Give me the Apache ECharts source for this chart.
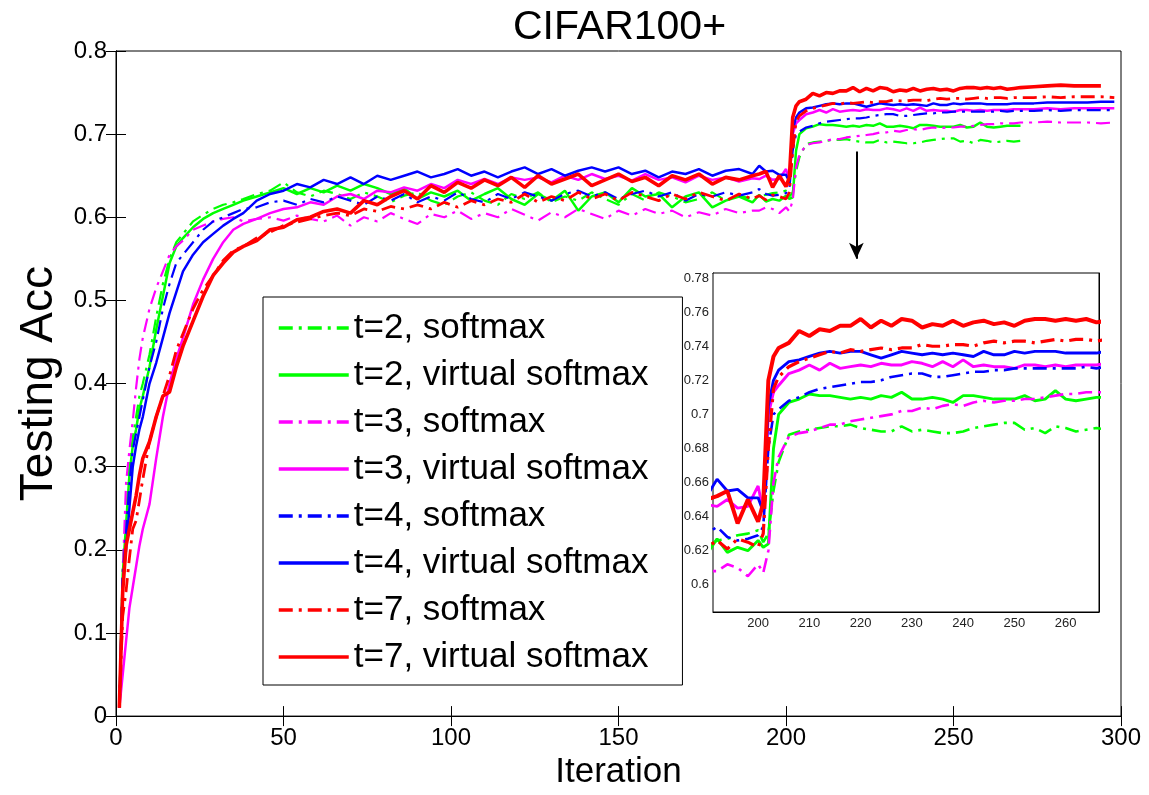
<!DOCTYPE html>
<html lang="en">
<head>
  <meta charset="UTF-8">
  <title>CIFAR100+</title>
  <script src="https://cdn.jsdelivr.net/npm/echarts@6/dist/echarts.min.js"></script>
</head>
<body style="margin:0">
  <div id="main" style="width:1149px;height:795px"></div>

  <script>
    const iters = [1, 2, 3, 4, 5, 6, 7, 8,
      10, 12, 14, 16, 18, 20,
      23, 26, 29, 32, 35, 38,
      42, 46, 50, 54, 58, 62, 66, 70, 74, 78,
      82, 86, 90, 94, 98, 102, 106, 110, 114, 118,
      122, 126, 130, 134, 138, 142, 146, 150, 154, 158,
      162, 166, 170, 174, 178, 182, 186, 190,
      192, 194, 196, 198, 200,
      201, 202, 203, 204,
      206, 208, 210, 212, 214, 216, 218, 220, 222, 224,
      226, 228, 230, 232, 234, 236, 238, 240, 242, 244,
      246, 248, 250, 252, 254, 256, 258, 260, 262, 264,
      266, 268, 270,
      274, 278, 282, 286, 290, 294, 298]

    const t2Softmax = [0.01, 0.18, 0.24, 0.30, 0.335, 0.36, 0.385, 0.40,
      0.435, 0.48, 0.52, 0.55, 0.57, 0.58,
      0.595, 0.603, 0.61, 0.615, 0.618, 0.622,
      0.628, 0.632, 0.642, 0.63, 0.625, 0.632, 0.628, 0.622, 0.63, 0.625,
      0.618, 0.626, 0.63, 0.62, 0.615, 0.625, 0.63, 0.62, 0.615, 0.628,
      0.622, 0.63, 0.618, 0.625, 0.62, 0.63, 0.622, 0.615, 0.628, 0.62,
      0.63, 0.625, 0.618, 0.622, 0.63, 0.62, 0.626, 0.622,
      0.626, 0.627, 0.629, 0.63, 0.632,
      0.625, 0.63, 0.655, 0.672,
      0.688, 0.69, 0.691, 0.692, 0.693, 0.693, 0.694, 0.692, 0.691, 0.69,
      0.69, 0.693, 0.69, 0.691, 0.69, 0.689, 0.689, 0.69, 0.692, 0.693,
      0.694, 0.695, 0.695, 0.691, 0.692, 0.689, 0.693, 0.692, 0.69, 0.691,
      0.692, 0.691, 0.692,
      null, null, null, null, null, null, null]

    const t2Virtual = [0.01, 0.17, 0.23, 0.29, 0.325, 0.345, 0.37, 0.385,
      0.42, 0.465, 0.505, 0.545, 0.565, 0.575,
      0.588, 0.598, 0.605, 0.61, 0.615, 0.62,
      0.625, 0.63, 0.635, 0.628, 0.635, 0.63, 0.638, 0.632, 0.64, 0.635,
      0.628, 0.635, 0.622, 0.63, 0.625, 0.632, 0.62, 0.628, 0.635, 0.622,
      0.615, 0.628, 0.62, 0.632, 0.608, 0.625, 0.63, 0.618, 0.635, 0.625,
      0.628, 0.612, 0.625, 0.63, 0.612, 0.62, 0.625, 0.618,
      0.627, 0.619, 0.622, 0.62, 0.626,
      0.622, 0.624, 0.68, 0.70,
      0.707, 0.709, 0.712, 0.711, 0.711, 0.71, 0.709, 0.71, 0.709, 0.711,
      0.71, 0.713, 0.709, 0.709, 0.71, 0.709, 0.707, 0.711, 0.711, 0.71,
      0.709, 0.709, 0.709, 0.711, 0.708, 0.709, 0.714, 0.709, 0.708, 0.709,
      0.71, 0.71, 0.71,
      null, null, null, null, null, null, null]

    const t3Softmax = [0.01, 0.17, 0.28, 0.32, 0.355, 0.395, 0.43, 0.455,
      0.49, 0.515, 0.535, 0.555, 0.565, 0.572,
      0.585, 0.59, 0.595, 0.598, 0.60, 0.595,
      0.598, 0.60, 0.596, 0.602, 0.598, 0.595, 0.602, 0.59, 0.60, 0.595,
      0.605, 0.598, 0.592, 0.604, 0.60, 0.608, 0.598, 0.605, 0.60, 0.61,
      0.603, 0.596, 0.606, 0.60, 0.61, 0.604, 0.598, 0.608, 0.602, 0.61,
      0.604, 0.608, 0.60, 0.606, 0.602, 0.61, 0.605, 0.608,
      0.608, 0.612, 0.61, 0.605, 0.612,
      0.607, 0.62, 0.66, 0.675,
      0.687, 0.689, 0.69, 0.692, 0.694, 0.694, 0.696, 0.697, 0.698, 0.699,
      0.70, 0.702, 0.702, 0.704, 0.703, 0.705, 0.706, 0.705, 0.707, 0.708,
      0.707, 0.708, 0.708, 0.709, 0.709, 0.71, 0.711, 0.712, 0.712, 0.713,
      0.713, 0.713, 0.714,
      0.714, 0.715, 0.714, 0.714, 0.714, 0.713, 0.714]

    const t3Virtual = [0.01, 0.05, 0.09, 0.13, 0.155, 0.18, 0.205, 0.225,
      0.255, 0.31, 0.36, 0.40, 0.43, 0.455,
      0.495, 0.525, 0.55, 0.57, 0.585, 0.592,
      0.598, 0.605, 0.61, 0.612, 0.618, 0.615, 0.625, 0.628, 0.622, 0.632,
      0.63, 0.636, 0.632, 0.64, 0.635, 0.645, 0.64, 0.646, 0.64, 0.648,
      0.645, 0.648, 0.642, 0.65, 0.645, 0.652, 0.646, 0.65, 0.644, 0.652,
      0.645, 0.648, 0.642, 0.65, 0.645, 0.648, 0.643, 0.647,
      0.646, 0.65, 0.645, 0.646, 0.658,
      0.643, 0.70, 0.713, 0.717,
      0.724, 0.726, 0.729, 0.726, 0.73, 0.727, 0.728, 0.729, 0.728, 0.73,
      0.729, 0.729, 0.731, 0.73, 0.728, 0.731, 0.728, 0.732, 0.728, 0.729,
      0.728, 0.728, 0.727, 0.729, 0.729, 0.728, 0.729, 0.728, 0.729, 0.729,
      0.729, 0.73, 0.73,
      0.73, 0.731, 0.73, 0.731, 0.731, 0.731, 0.731]

    const t4Softmax = [0.01, 0.17, 0.22, 0.28, 0.32, 0.34, 0.36, 0.38,
      0.42, 0.45, 0.49, 0.52, 0.545, 0.555,
      0.57, 0.585, 0.595, 0.60, 0.605, 0.61,
      0.612, 0.618, 0.62, 0.615, 0.622, 0.618, 0.625, 0.62, 0.615, 0.625,
      0.62, 0.628, 0.618, 0.625, 0.62, 0.63, 0.622, 0.618, 0.628, 0.622,
      0.63, 0.625, 0.62, 0.628, 0.632, 0.625, 0.63, 0.622, 0.628, 0.632,
      0.625, 0.63, 0.62, 0.628, 0.625, 0.63, 0.626, 0.63,
      0.634, 0.628, 0.626, 0.627, 0.629,
      0.634, 0.68, 0.70, 0.703,
      0.708, 0.71, 0.713, 0.715, 0.716, 0.717, 0.718, 0.719, 0.719, 0.72,
      0.722, 0.723, 0.724, 0.724, 0.722, 0.722, 0.723, 0.724, 0.725, 0.725,
      0.726, 0.726, 0.727, 0.727, 0.727, 0.727, 0.727, 0.727, 0.727, 0.728,
      0.727, 0.728, 0.728,
      0.728, 0.729, 0.728, 0.729, 0.729, 0.729, 0.729]

    const t4Virtual = [0.01, 0.16, 0.20, 0.25, 0.30, 0.325, 0.345, 0.36,
      0.40, 0.425, 0.455, 0.485, 0.51, 0.535,
      0.555, 0.57, 0.58, 0.59, 0.598, 0.605,
      0.62, 0.628, 0.632, 0.64, 0.636, 0.645, 0.64, 0.648, 0.64, 0.65,
      0.645, 0.65, 0.655, 0.648, 0.652, 0.658, 0.65, 0.655, 0.648, 0.655,
      0.66, 0.652, 0.658, 0.65, 0.656, 0.66, 0.655, 0.66, 0.652, 0.656,
      0.648, 0.655, 0.652, 0.658, 0.65, 0.656, 0.658, 0.652,
      0.662, 0.655, 0.656, 0.651, 0.651,
      0.643, 0.705, 0.72, 0.726,
      0.731, 0.732, 0.734, 0.736, 0.737, 0.736, 0.737, 0.737, 0.735, 0.733,
      0.735, 0.737, 0.736, 0.735, 0.736, 0.735, 0.736, 0.735, 0.734, 0.737,
      0.735, 0.735, 0.737, 0.736, 0.737, 0.737, 0.737, 0.736, 0.736, 0.736,
      0.736, 0.737, 0.737,
      0.737, 0.738, 0.738, 0.738, 0.738, 0.739, 0.739]

    const t7Softmax = [0.01, 0.12, 0.15, 0.19, 0.225, 0.235, 0.26, 0.285,
      0.33, 0.36, 0.385, 0.41, 0.44, 0.46,
      0.49, 0.513, 0.53, 0.548, 0.56, 0.565,
      0.575, 0.582, 0.59, 0.594, 0.598, 0.602, 0.605, 0.602, 0.61, 0.607,
      0.613, 0.61, 0.615, 0.61, 0.618, 0.612, 0.62, 0.615, 0.622, 0.618,
      0.628, 0.618, 0.625, 0.62, 0.63, 0.622, 0.628, 0.62, 0.63, 0.625,
      0.62, 0.628, 0.622, 0.63, 0.625, 0.62, 0.628, 0.622,
      0.626, 0.621, 0.627, 0.625, 0.622,
      0.63, 0.68, 0.715, 0.722,
      0.728, 0.731, 0.733, 0.735, 0.737, 0.736, 0.738, 0.737, 0.738, 0.739,
      0.738, 0.739, 0.739, 0.741, 0.74, 0.74, 0.741, 0.741, 0.74, 0.742,
      0.743, 0.742, 0.743, 0.743, 0.742, 0.743, 0.744, 0.743, 0.744, 0.744,
      0.743, 0.744, 0.744,
      0.744, 0.745, 0.744, 0.745, 0.745, 0.745, 0.744]

    const t7Virtual = [0.01, 0.15, 0.205, 0.225, 0.245, 0.265, 0.29, 0.31,
      0.33, 0.36, 0.385, 0.39, 0.42, 0.445,
      0.475, 0.505, 0.53, 0.545, 0.558, 0.565,
      0.572, 0.585, 0.588, 0.597, 0.60, 0.607, 0.61, 0.605, 0.62, 0.615,
      0.625, 0.632, 0.622, 0.638, 0.63, 0.642, 0.635, 0.645, 0.638, 0.648,
      0.636, 0.65, 0.64, 0.646, 0.652, 0.638, 0.645, 0.652, 0.643, 0.648,
      0.638, 0.65, 0.645, 0.652, 0.64, 0.648, 0.645, 0.65,
      0.652, 0.655, 0.636, 0.65, 0.637,
      0.648, 0.72, 0.734, 0.739,
      0.742, 0.749, 0.746, 0.75, 0.749, 0.752, 0.752, 0.756, 0.751, 0.755,
      0.752, 0.756, 0.755, 0.751, 0.753, 0.752, 0.755, 0.752, 0.754, 0.755,
      0.753, 0.754, 0.752, 0.755, 0.756, 0.756, 0.755, 0.756, 0.755, 0.756,
      0.754, 0.755, 0.756,
      0.757, 0.758, 0.759, 0.758, 0.758, 0.758, null]

    const names = ['t=2, softmax', 't=2, virtual softmax', 't=3, softmax', 't=3, virtual softmax',
      't=4, softmax', 't=4, virtual softmax', 't=7, softmax', 't=7, virtual softmax']

    const insetXTicks = [200, 210, 220, 230, 240, 250, 260]
    const insetYTicks = [0.6, 0.62, 0.64, 0.66, 0.68, 0.7, 0.72, 0.74, 0.76, 0.78]

    // arrow from the main plot down to the zoomed box (iteration, acc)
    const arrowIter = 221
    const arrowFrom = 0.679
    const arrowTo = 0.55

    const font = 'Liberation Sans, Arial, sans-serif'
    const dashDot = [14, 6, 3, 6]

    const lines = [
      { name: names[0], data: t2Softmax, color: '#00ff00', dash: true, width: 2.2 },
      { name: names[1], data: t2Virtual, color: '#00ff00', dash: false, width: 2.5 },
      { name: names[2], data: t3Softmax, color: '#ff00ff', dash: true, width: 2.2 },
      { name: names[3], data: t3Virtual, color: '#ff00ff', dash: false, width: 2.5 },
      { name: names[4], data: t4Softmax, color: '#0000ff', dash: true, width: 2.2 },
      { name: names[5], data: t4Virtual, color: '#0000ff', dash: false, width: 2.5 },
      { name: names[6], data: t7Softmax, color: '#ff0000', dash: true, width: 2.8 },
      { name: names[7], data: t7Virtual, color: '#ff0000', dash: false, width: 3.6 }
    ]

    function pairs(vals) {
      return iters.map((x, i) => [x, vals[i]])
    }

    function makeSeries(l, inset) {
      return {
        name: l.name,
        type: 'line',
        symbol: 'none',
        xAxisIndex: inset ? 2 : 0,
        yAxisIndex: inset ? 2 : 0,
        z: inset ? 10 : 2,
        data: pairs(l.data),
        lineStyle: { color: l.color, width: inset ? l.width + 0.4 : l.width, type: l.dash ? dashDot : 'solid' },
        itemStyle: { color: l.color },
        silent: true
      }
    }

    const mainSeries = lines.map(l => makeSeries(l, false))
    const insetSeries = lines.map(l => makeSeries(l, true))

    mainSeries[7].markLine = {
      silent: true,
      symbol: ['none', 'arrow'],
      symbolSize: [11, 16],
      label: { show: false },
      lineStyle: { color: '#000', width: 2, type: 'solid' },
      data: [[{ coord: [arrowIter, arrowFrom] }, { coord: [arrowIter, arrowTo] }]]
    }

    const black = { color: '#000', width: 1 }

    function mainX(pos) {
      return {
        type: 'value', gridIndex: 0, position: pos, min: 0, max: 300, interval: 50,
        axisLine: { lineStyle: black },
        axisTick: { inside: true, length: 10, lineStyle: black },
        axisLabel: { show: pos === 'bottom', fontSize: 24, color: '#000', fontFamily: font, margin: 10 },
        splitLine: { show: false }
      }
    }
    function mainY(pos) {
      return {
        type: 'value', gridIndex: 0, position: pos, min: 0, max: 0.8, interval: 0.1,
        axisLine: { show: true, lineStyle: black },
        axisTick: { show: true, inside: true, length: 10, lineStyle: black },
        axisLabel: { show: pos === 'left', fontSize: 24, color: '#000', fontFamily: font, margin: 9 },
        splitLine: { show: false }
      }
    }
    function insetX(pos) {
      return {
        type: 'value', gridIndex: 1, position: pos, min: 191.2, max: 266.5,
        axisLine: { lineStyle: black },
        axisTick: { inside: true, length: 5, lineStyle: black, customValues: insetXTicks },
        axisLabel: { show: pos === 'bottom', customValues: insetXTicks, fontSize: 13, color: '#222', fontFamily: font, margin: 5 },
        splitLine: { show: false }
      }
    }
    function insetY(pos) {
      return {
        type: 'value', gridIndex: 1, position: pos, min: 0.584, max: 0.783,
        axisLine: { show: true, lineStyle: black },
        axisTick: { show: true, inside: true, length: 5, lineStyle: black, customValues: insetYTicks },
        axisLabel: { show: pos === 'left', customValues: insetYTicks, fontSize: 13, color: '#222', fontFamily: font, margin: 4 },
        splitLine: { show: false }
      }
    }

    const xMain = mainX('bottom')
    xMain.name = 'Iteration'
    xMain.nameLocation = 'middle'
    xMain.nameGap = 24
    xMain.nameTextStyle = { fontSize: 35, color: '#000', fontFamily: font }

    const yMain = mainY('left')
    yMain.name = 'Testing Acc'
    yMain.nameLocation = 'middle'
    yMain.nameGap = 54
    yMain.nameTextStyle = { fontSize: 46, color: '#000', fontFamily: font }

    const myChart = echarts.init(document.getElementById('main'), null, { renderer: 'canvas' })

    const option = {
      animation: false,
      backgroundColor: '#fff',
      title: {
        text: 'CIFAR100+',
        left: 508, top: 2,
        textStyle: { fontSize: 41, fontWeight: 'normal', color: '#000', fontFamily: font }
      },
      legend: {
        orient: 'vertical',
        left: 263, top: 297,
        data: names,
        itemWidth: 70, itemHeight: 20, itemGap: 11,
        padding: [13, 34, 10, 14],
        backgroundColor: '#fff',
        borderColor: '#000', borderWidth: 1,
        selectedMode: false,
        itemStyle: { opacity: 0 },
        lineStyle: { width: 3.5 },
        textStyle: { fontSize: 35, color: '#000', fontFamily: font, lineHeight: 36 },
        z: 10
      },
      grid: [
        { left: 116, right: 28, top: 51, bottom: 59, show: true, borderColor: '#000', borderWidth: 1, backgroundColor: 'transparent' },
        { left: 713, right: 50, top: 273, bottom: 183, show: true, borderColor: '#000', borderWidth: 1, backgroundColor: '#fff', z: 5 }
      ],
      xAxis: [xMain, mainX('top'), insetX('bottom'), insetX('top')],
      yAxis: [yMain, mainY('right'), insetY('left'), insetY('right')],
      series: mainSeries.concat(insetSeries)
    }

    myChart.setOption(option)
  </script>
</body>
</html>
